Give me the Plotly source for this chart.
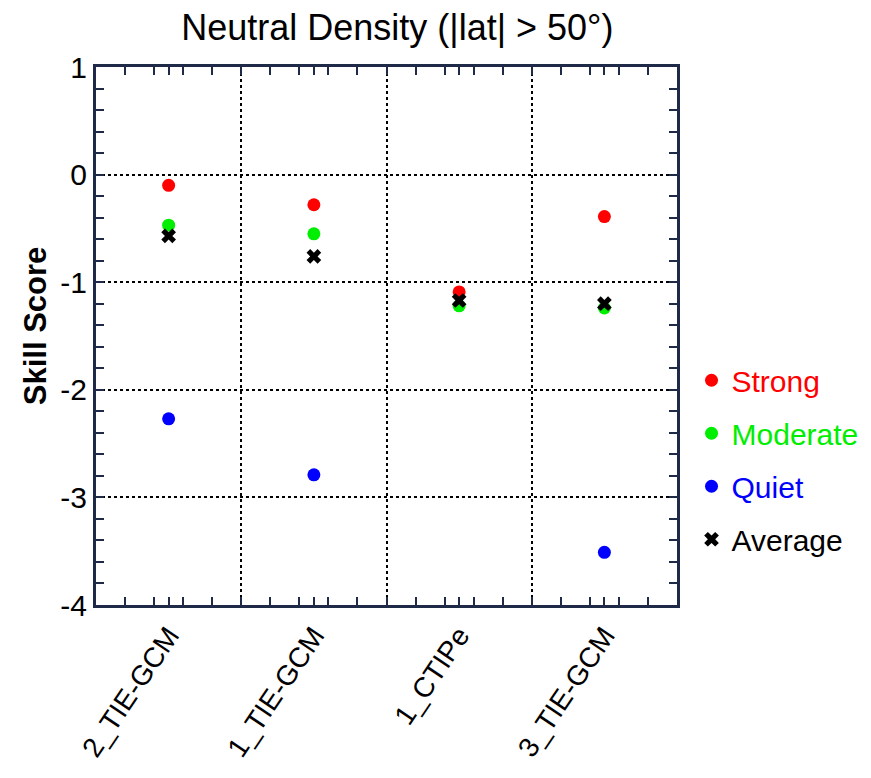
import plotly.graph_objects as go

categories = ["2_TIE-GCM", "1_TIE-GCM", "1_CTIPe", "3_TIE-GCM"]
x_pos = [1, 2, 3, 4]
strong = [-0.10, -0.28, -1.09, -0.39]
moderate = [-0.47, -0.55, -1.22, -1.24]
quiet = [-2.27, -2.79, None, -3.51]
average = [-0.57, -0.76, -1.17, -1.20]
y_ticks = [1, 0, -1, -2, -3, -4]

FONT = "Liberation Sans, Arial, sans-serif"
FRAME = "#1f2a48"

fig = go.Figure()
series = [
    ("Strong", strong, "#ff0000", "circle", 13),
    ("Moderate", moderate, "#00ee00", "circle", 13),
    ("Quiet", quiet, "#0000ff", "circle", 13),
]
for i, (name, vals, col, sym, sz) in enumerate(series):
    fig.add_trace(go.Scatter(
        x=x_pos, y=vals, mode="markers", legendgroup=f"g{i}",
        name=f"<span style='color:{col}'>{name}</span>",
        marker=dict(color=col, symbol=sym, size=sz, line=dict(width=0)),
    ))
fig.add_trace(go.Scatter(
    x=x_pos, y=average, mode="markers", legendgroup="g3",
    name="<span style='color:black'>Average</span>",
    marker=dict(color="black", symbol="x", size=13, line=dict(width=0)),
))
# helper trace to carry the secondary x axis with gridlines between categories
fig.add_trace(go.Scatter(x=[], y=[], xaxis="x2", showlegend=False))

fig.update_layout(
    width=871, height=778,
    margin=dict(l=88, r=202, t=59, b=181, autoexpand=False),
    paper_bgcolor="white", plot_bgcolor="white",
    font=dict(family=FONT, size=30, color="black"),
    title=dict(text="Neutral Density (|lat| > 50°)", x=0.447, xanchor="center",
               y=0.975, yanchor="middle", font=dict(family=FONT, size=36)),
    showlegend=True,
    legend=dict(x=1.025, xanchor="left", y=0.27, yanchor="middle",
                font=dict(family=FONT, size=30), tracegroupgap=11,
                itemwidth=30, bgcolor="rgba(0,0,0,0)"),
    xaxis=dict(range=[0.5, 4.5], tickvals=x_pos, ticktext=categories,
               tickangle=-56, showgrid=False, zeroline=False,
               showline=True, linecolor=FRAME, linewidth=3, mirror="allticks",
               ticks="inside", ticklen=8, tickwidth=1.5, tickcolor=FRAME,
               tickfont=dict(family=FONT, size=28),
               minor=dict(ticks="inside", ticklen=8, tickwidth=1.5, tickcolor=FRAME,
                          dtick=0.2, tick0=0.5, showgrid=False)),
    xaxis2=dict(range=[0.5, 4.5], overlaying="x", tickvals=[1.5, 2.5, 3.5],
                showticklabels=False, ticks="", showgrid=True,
                gridcolor="black", gridwidth=1.5, griddash="dot",
                zeroline=False, showline=False, side="bottom", layer="below traces"),
    yaxis=dict(range=[-4, 1], tickvals=y_ticks, ticktext=[str(v) for v in y_ticks],
               showgrid=True, gridcolor="black", gridwidth=1.5, griddash="dot",
               zeroline=False, showline=True, linecolor=FRAME, linewidth=3,
               mirror="allticks", ticks="inside", ticklen=8, tickwidth=1.5,
               tickcolor=FRAME, tickfont=dict(family=FONT, size=30),
               minor=dict(ticks="inside", ticklen=8, tickwidth=1.5, tickcolor=FRAME,
                          dtick=0.2, tick0=0, showgrid=False)),
    annotations=[dict(text="<b>Skill Score</b>", textangle=-90, xref="paper",
                      yref="paper", x=-0.105, y=0.52, xanchor="center",
                      yanchor="middle", showarrow=False,
                      font=dict(family=FONT, size=31))],
)

fig.write_html("out.html")
